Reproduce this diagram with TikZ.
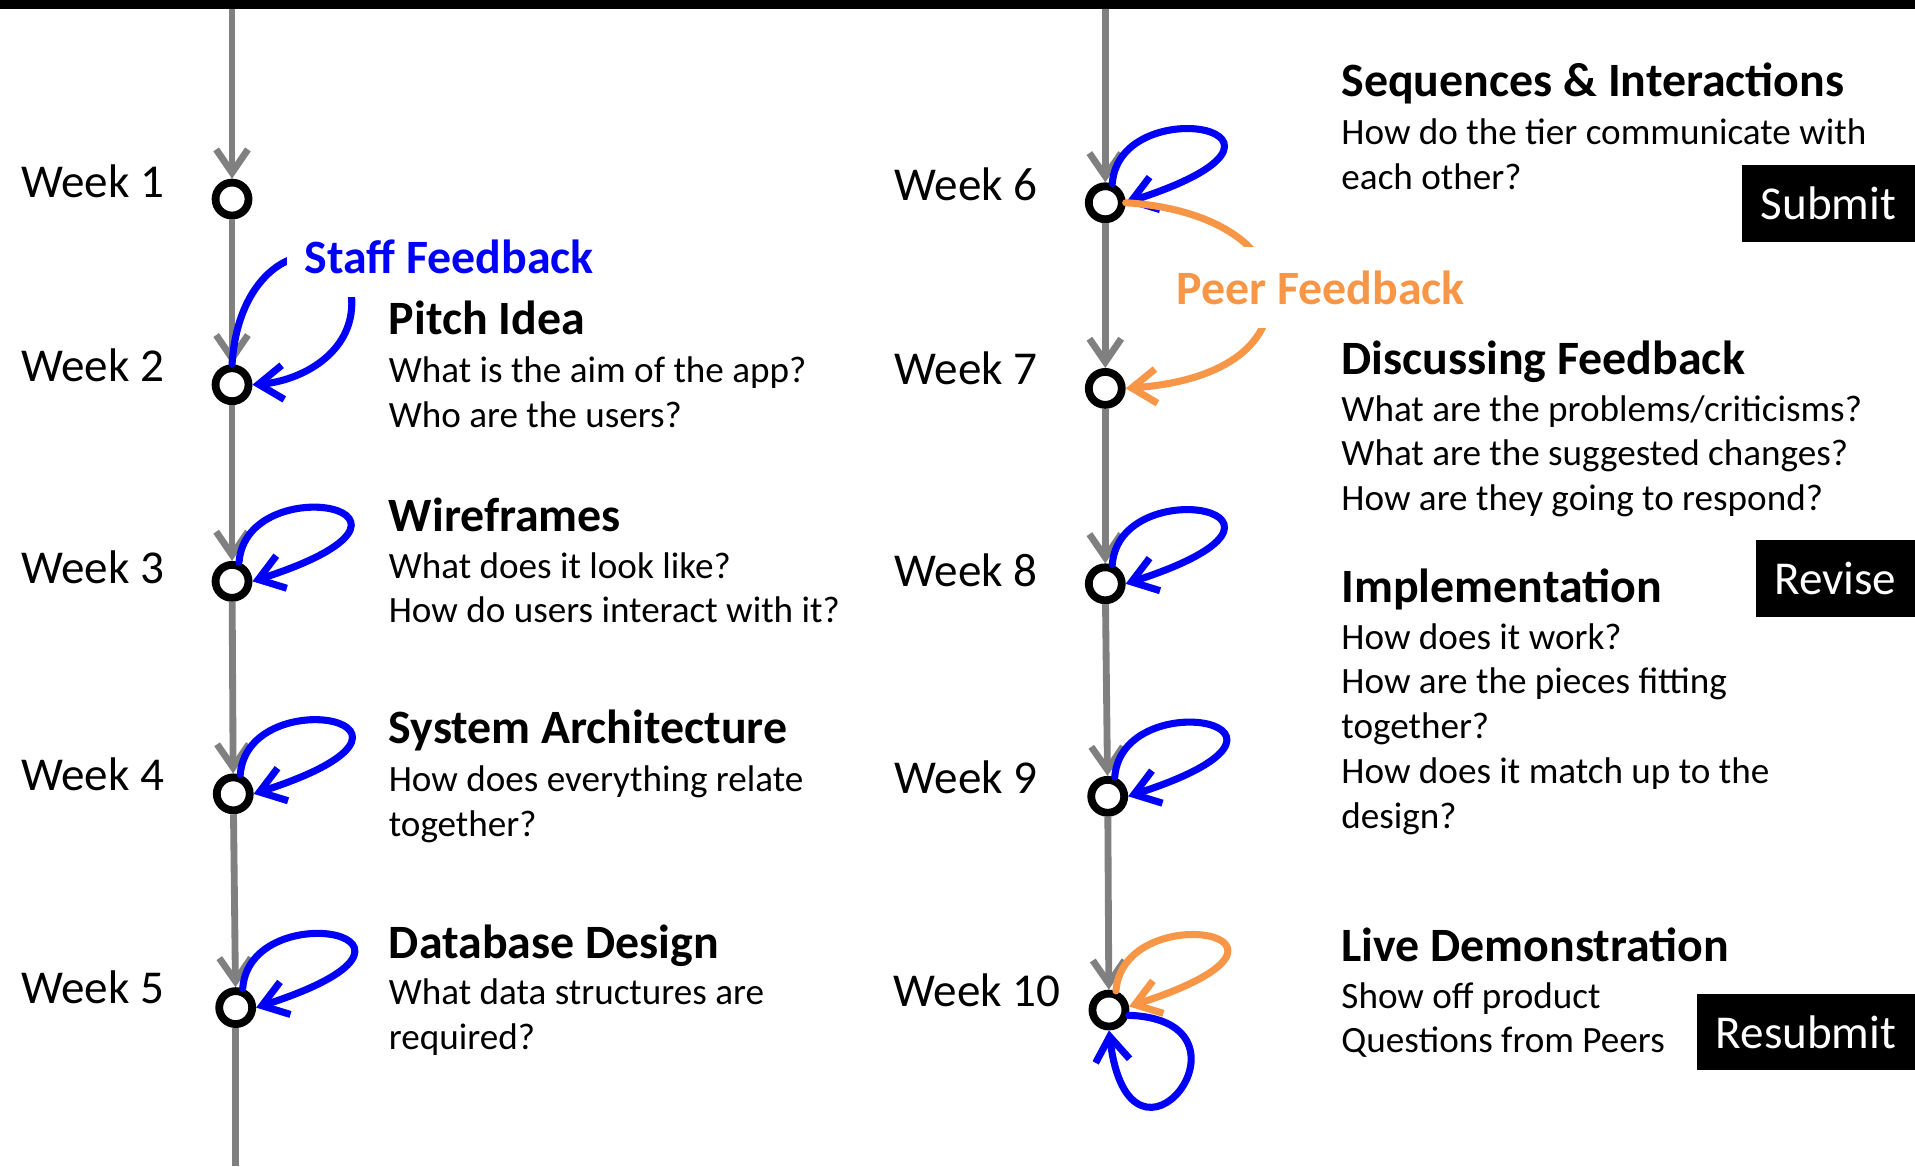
\documentclass[tikz,border=0pt]{standalone}
\usepackage{fontspec}
\setmainfont{Carlito}
\usetikzlibrary{arrows.meta}

\definecolor{timegray}{RGB}{128,128,128}
\definecolor{staffblue}{RGB}{0,0,250}
\definecolor{peerorange}{RGB}{247,150,70}

\newcommand{\bigtext}{\fontsize{19.3}{23.5}\selectfont}
\newcommand{\titletext}{\fontsize{19.6}{23.5}\selectfont\bfseries}
\newcommand{\smalltext}{\fontsize{15.2}{18.3}\selectfont}

\begin{document}
\begin{tikzpicture}[x=0.5pt, y=-0.5pt,
  week/.style={circle, draw=black, line width=3.2pt, fill=white, minimum size=13.5pt, inner sep=0pt},
  weeklabel/.style={anchor=base west, inner sep=0pt, font=\bigtext},
  topic/.style={anchor=base west, inner sep=0pt, font=\titletext},
  question/.style={anchor=base west, inner sep=0pt, font=\smalltext, align=left},
  timeline/.style={draw=timegray, line width=2.8pt, -{Straight Barb[length=9.5pt,width=13pt]}},
  staffloop/.style={draw=staffblue, line width=2.9pt, line cap=round, -{Straight Barb[length=10pt,width=14pt]}},
  peerloop/.style={staffloop, draw=peerorange},
  feedback/.style={anchor=base west, fill=white, inner xsep=7pt, inner ysep=9.5pt, font=\titletext},
  tagbox/.style={anchor=east, fill=black, text=white, inner xsep=7.5pt, inner ysep=0pt, minimum height=31.5pt, font=\bigtext}]

  \useasboundingbox (0,0) rectangle (1568,955);
  \fill[black] (0,0) rectangle (1568,7.5);

  % weeks 1-5
  \coordinate (ltop) at (190,7);
  \coordinate (lend) at (193,955);
  \node[week] (w1) at (190,163) {};
  \node[week] (w2) at (190,315) {};
  \node[week] (w3) at (190,476) {};
  \node[week] (w4) at (191,650) {};
  \node[week] (w5) at (193,825) {};
  % weeks 6-10
  \coordinate (rtop) at (905,7);
  \node[week] (w6) at (905,166) {};
  \node[week] (w7) at (905,318) {};
  \node[week] (w8) at (905,478) {};
  \node[week] (w9) at (907,652) {};
  \node[week] (w10) at (908,827) {};

  \foreach \a/\b in {ltop/w1, w1/w2, w2/w3, w3/w4, w4/w5, rtop/w6, w6/w7, w7/w8, w8/w9, w9/w10}
    \draw[timeline] (\a) -- (\b);
  \draw[timeline, -] (w5) -- (lend);

  \node[weeklabel] (l1) at (17,162) {Week 1};
  \node[weeklabel] (l2) at (17,312) {Week 2};
  \node[weeklabel] (l3) at (17,478) {Week 3};
  \node[weeklabel] (l4) at (17,647) {Week 4};
  \node[weeklabel] (l5) at (17,822) {Week 5};
  \node[weeklabel] (l6) at (732,164) {Week 6};
  \node[weeklabel] (l7) at (732,315) {Week 7};
  \node[weeklabel] (l8) at (732,480) {Week 8};
  \node[weeklabel] (l9) at (732,650) {Week 9};
  \node[weeklabel] (l10) at (731,824) {Week 10};

  % feedback loops
  \foreach \w in {w3,w4,w5,w6,w8,w9}
    \draw[staffloop] (\w.70) .. controls +(6,-78) and +(180,-58) .. (\w.east);
  \draw[staffloop] (w2.north) .. controls (196,200) and (280,185) .. (288,245)
    .. controls (290,290) and (245,312) .. (w2.east);
  \draw[peerloop] (w6.east) .. controls (990,170) and (1040,200) .. (1040,240)
    .. controls (1040,290) and (990,313) .. (w7.east);
  \draw[peerloop] (w10.70) .. controls +(6,-78) and +(180,-58) .. (w10.10);
  \draw[staffloop] (w10.-15) .. controls +(116,4) and +(17,141) .. (w10.south);

  \node[feedback, text=staffblue] (staff) at (235,224) {Staff Feedback};
  \node[feedback, text=peerorange] (peer) at (949,249) {Peer Feedback};

  % topics (questions sit on the baseline of their last line)
  \node[topic] (pitch) at (318,274) {Pitch Idea};
  \node[question] (pitchq) at (318,350) {What is the aim of the app?\\Who are the users?};
  \node[topic] (wire) at (318,435) {Wireframes};
  \node[question] (wireq) at (318,510) {What does it look like?\\How do users interact with it?};
  \node[topic] (arch) at (318,609) {System Architecture};
  \node[question] (archq) at (318,685) {How does everything relate\\together?};
  \node[topic] (db) at (318,785) {Database Design};
  \node[question] (dbq) at (318,859) {What data structures are\\required?};

  \node[topic] (seq) at (1098,79) {Sequences \& Interactions};
  \node[question] (seqq) at (1098,155) {How do the tier communicate with\\each other?};
  \node[topic] (disc) at (1098,307) {Discussing Feedback};
  \node[question] (discq) at (1098,418) {What are the problems/criticisms?\\What are the suggested changes?\\How are they going to respond?};
  \node[topic] (impl) at (1098,493) {Implementation};
  \node[question] (implq) at (1098,678) {How does it work?\\How are the pieces fitting\\together?\\How does it match up to the\\design?};
  \node[topic] (demo) at (1098,787) {Live Demonstration};
  \node[question] (demoq) at (1098,862) {Show off product\\Questions from Peers};

  \node[tagbox] (submit) at (1568,166.5) {Submit};
  \node[tagbox] (revise) at (1568,473.5) {Revise};
  \node[tagbox] (resubmit) at (1568,845) {Resubmit};
\end{tikzpicture}
\end{document}
